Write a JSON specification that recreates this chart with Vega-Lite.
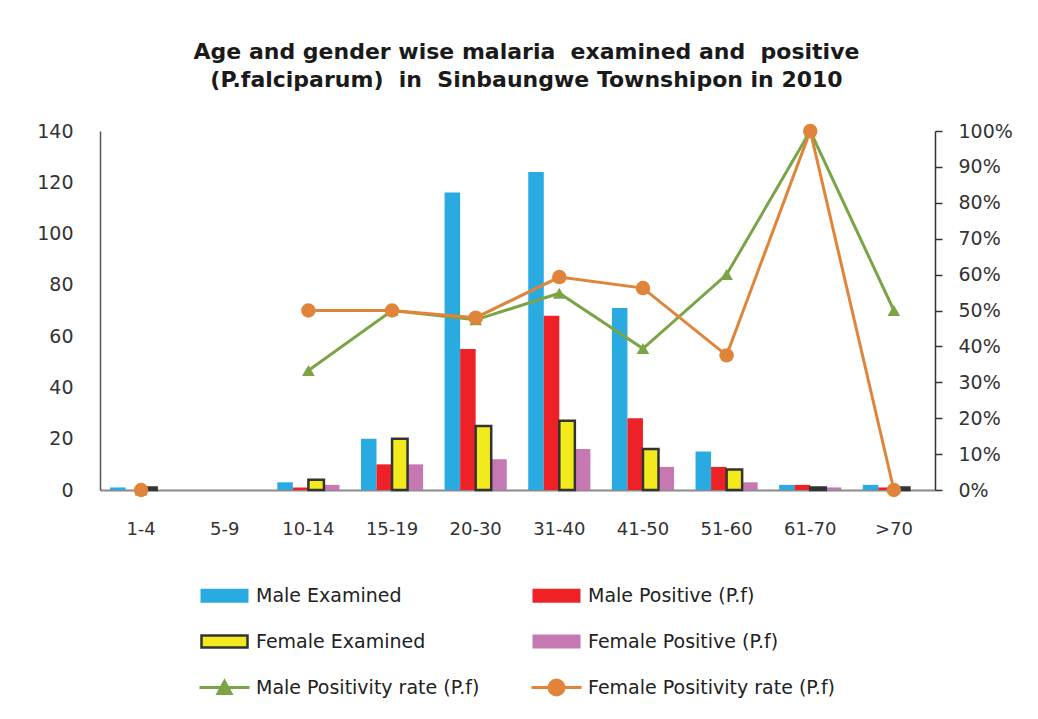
{
  "$schema": "https://vega.github.io/schema/vega-lite/v6.json",
  "width": 835,
  "height": 359,
  "autosize": {"type": "none"},
  "padding": {"left": 100, "top": 131, "right": 103, "bottom": 229},
  "background": "white",
  "config": {"view": {"stroke": null}, "font": "DejaVu Sans"},
  "title": {
    "text": ["Age and gender wise malaria \u00a0examined and \u00a0positive", "(P.falciparum) \u00a0in \u00a0Sinbaungwe Townshipon in 2010"],
    "font": "DejaVu Sans", "fontSize": 22, "fontWeight": "bold", "color": "#1a1a1a",
    "lineHeight": 28, "anchor": "middle", "frame": "group", "dx": 9, "offset": 30
  },
  "datasets": {
    "counts": [
      {"age": "1-4", "series": "Male Examined", "count": 1},
      {"age": "1-4", "series": "Female Examined", "count": 1},
      {"age": "10-14", "series": "Male Examined", "count": 3},
      {"age": "10-14", "series": "Male Positive (P.f)", "count": 1},
      {"age": "10-14", "series": "Female Examined", "count": 4},
      {"age": "10-14", "series": "Female Positive (P.f)", "count": 2},
      {"age": "15-19", "series": "Male Examined", "count": 20},
      {"age": "15-19", "series": "Male Positive (P.f)", "count": 10},
      {"age": "15-19", "series": "Female Examined", "count": 20},
      {"age": "15-19", "series": "Female Positive (P.f)", "count": 10},
      {"age": "20-30", "series": "Male Examined", "count": 116},
      {"age": "20-30", "series": "Male Positive (P.f)", "count": 55},
      {"age": "20-30", "series": "Female Examined", "count": 25},
      {"age": "20-30", "series": "Female Positive (P.f)", "count": 12},
      {"age": "31-40", "series": "Male Examined", "count": 124},
      {"age": "31-40", "series": "Male Positive (P.f)", "count": 68},
      {"age": "31-40", "series": "Female Examined", "count": 27},
      {"age": "31-40", "series": "Female Positive (P.f)", "count": 16},
      {"age": "41-50", "series": "Male Examined", "count": 71},
      {"age": "41-50", "series": "Male Positive (P.f)", "count": 28},
      {"age": "41-50", "series": "Female Examined", "count": 16},
      {"age": "41-50", "series": "Female Positive (P.f)", "count": 9},
      {"age": "51-60", "series": "Male Examined", "count": 15},
      {"age": "51-60", "series": "Male Positive (P.f)", "count": 9},
      {"age": "51-60", "series": "Female Examined", "count": 8},
      {"age": "51-60", "series": "Female Positive (P.f)", "count": 3},
      {"age": "61-70", "series": "Male Examined", "count": 2},
      {"age": "61-70", "series": "Male Positive (P.f)", "count": 2},
      {"age": "61-70", "series": "Female Examined", "count": 1},
      {"age": "61-70", "series": "Female Positive (P.f)", "count": 1},
      {"age": ">70", "series": "Male Examined", "count": 2},
      {"age": ">70", "series": "Male Positive (P.f)", "count": 1},
      {"age": ">70", "series": "Female Examined", "count": 1}
    ],
    "rates": [
      {"age": "1-4", "series": "Male Positivity rate (P.f)", "rate": 0},
      {"age": "10-14", "series": "Male Positivity rate (P.f)", "rate": 0.333},
      {"age": "15-19", "series": "Male Positivity rate (P.f)", "rate": 0.5},
      {"age": "20-30", "series": "Male Positivity rate (P.f)", "rate": 0.474},
      {"age": "31-40", "series": "Male Positivity rate (P.f)", "rate": 0.548},
      {"age": "41-50", "series": "Male Positivity rate (P.f)", "rate": 0.394},
      {"age": "51-60", "series": "Male Positivity rate (P.f)", "rate": 0.6},
      {"age": "61-70", "series": "Male Positivity rate (P.f)", "rate": 1},
      {"age": ">70", "series": "Male Positivity rate (P.f)", "rate": 0.5},
      {"age": "1-4", "series": "Female Positivity rate (P.f)", "rate": 0},
      {"age": "10-14", "series": "Female Positivity rate (P.f)", "rate": 0.5},
      {"age": "15-19", "series": "Female Positivity rate (P.f)", "rate": 0.5},
      {"age": "20-30", "series": "Female Positivity rate (P.f)", "rate": 0.48},
      {"age": "31-40", "series": "Female Positivity rate (P.f)", "rate": 0.593},
      {"age": "41-50", "series": "Female Positivity rate (P.f)", "rate": 0.5625},
      {"age": "51-60", "series": "Female Positivity rate (P.f)", "rate": 0.375},
      {"age": "61-70", "series": "Female Positivity rate (P.f)", "rate": 1},
      {"age": ">70", "series": "Female Positivity rate (P.f)", "rate": 0}
    ]
  },
  "encoding": {
    "x": {
      "field": "age", "type": "nominal",
      "scale": {"domain": ["1-4", "5-9", "10-14", "15-19", "20-30", "31-40", "41-50", "51-60", "61-70", ">70"], "paddingInner": 0.257, "paddingOuter": 0.12},
      "axis": {"title": null, "labelAngle": 0, "labelFontSize": 18, "labelColor": "#333", "labelFont": "DejaVu Sans", "ticks": false, "domainColor": "#8a8a8a", "domainWidth": 2, "labelPadding": 30, "grid": false}
    },
    "color": {
      "field": "series", "type": "nominal",
      "scale": {
        "domain": ["Male Examined", "Male Positive (P.f)", "Female Examined", "Female Positive (P.f)", "Male Positivity rate (P.f)", "Female Positivity rate (P.f)"],
        "range": ["#29abe2", "#ee2226", "#f2ea1c", "#c678b2", "#7ba446", "#e0843a"]
      },
      "legend": {
        "title": null, "orient": "none", "legendX": 115, "legendY": 455, "columns": 2, "direction": "horizontal",
        "columnPadding": 45, "rowPadding": 19, "symbolSize": 400, "labelFontSize": 19, "labelFont": "DejaVu Sans",
        "labelColor": "#222", "labelOffset": 22, "labelLimit": 500,
        "encode": {
          "symbols": {
            "update": {
              "shape": {"signal": "datum.value == 'Male Positivity rate (P.f)' ? 'M-2.5,0H2.5M-0.65,0.6L0,-0.6L0.65,0.6Z' : datum.value == 'Female Positivity rate (P.f)' ? 'M-2.5,0H2.5M0.75,0A0.75,0.75 0 1,1 -0.75,0A0.75,0.75 0 1,1 0.75,0Z' : datum.value == 'Female Examined' ? 'M-2.3,-0.6H2.3V0.6H-2.3Z' : 'M-2.4,-0.7H2.4V0.7H-2.4Z'"},
              "strokeWidth": {"signal": "datum.value == 'Female Examined' ? 2.5 : 3"},
              "opacity": {"value": 1}
            }
          }
        }
      }
    },
    "stroke": {
      "field": "series", "type": "nominal",
      "scale": {
        "domain": ["Male Examined", "Male Positive (P.f)", "Female Examined", "Female Positive (P.f)", "Male Positivity rate (P.f)", "Female Positivity rate (P.f)"],
        "range": ["transparent", "transparent", "#333333", "transparent", "#7ba446", "#e0843a"]
      },
      "legend": {
        "title": null, "orient": "none", "legendX": 115, "legendY": 455, "columns": 2, "direction": "horizontal",
        "columnPadding": 45, "rowPadding": 19, "symbolSize": 400, "labelFontSize": 19, "labelFont": "DejaVu Sans",
        "labelColor": "#222", "labelOffset": 22, "labelLimit": 500,
        "encode": {
          "symbols": {
            "update": {
              "shape": {"signal": "datum.value == 'Male Positivity rate (P.f)' ? 'M-2.5,0H2.5M-0.65,0.6L0,-0.6L0.65,0.6Z' : datum.value == 'Female Positivity rate (P.f)' ? 'M-2.5,0H2.5M0.75,0A0.75,0.75 0 1,1 -0.75,0A0.75,0.75 0 1,1 0.75,0Z' : datum.value == 'Female Examined' ? 'M-2.3,-0.6H2.3V0.6H-2.3Z' : 'M-2.4,-0.7H2.4V0.7H-2.4Z'"},
              "strokeWidth": {"signal": "datum.value == 'Female Examined' ? 2.5 : 3"},
              "opacity": {"value": 1}
            }
          }
        }
      }
    }
  },
  "layer": [
    {
      "encoding": {
        "y": {
          "field": "count", "type": "quantitative",
          "scale": {"domain": [0, 140]},
          "axis": {"title": null, "values": [0, 20, 40, 60, 80, 100, 120, 140], "labelFontSize": 19, "labelFont": "DejaVu Sans", "labelColor": "#333", "ticks": false, "grid": false, "domainColor": "#555", "domainWidth": 1.5, "labelPadding": 27}
        },
        "xOffset": {"field": "series", "type": "nominal", "scale": {"domain": ["Male Examined", "Male Positive (P.f)", "Female Examined", "Female Positive (P.f)"], "paddingInner": 0, "paddingOuter": 0}}
      },
      "layer": [
        {
          "data": {"name": "counts"},
          "transform": [{"filter": "datum.series != 'Female Examined'"}],
          "mark": {"type": "bar", "opacity": 1, "strokeWidth": 0}
        },
        {
          "data": {"name": "counts"},
          "transform": [{"filter": "datum.series == 'Female Examined'"}],
          "mark": {"type": "bar", "opacity": 1, "strokeWidth": 2.5}
        }
      ]
    },
    {
      "encoding": {
        "y": {
          "field": "rate", "type": "quantitative",
          "scale": {"domain": [0, 1]},
          "axis": {"title": null, "orient": "right", "format": ".0%", "values": [0, 0.1, 0.2, 0.3, 0.4, 0.5, 0.6, 0.7, 0.8, 0.9, 1], "labelFontSize": 19, "labelFont": "DejaVu Sans", "labelColor": "#333", "ticks": true, "tickSize": 7, "tickColor": "#333", "tickWidth": 1.5, "grid": false, "domainColor": "#333", "domainWidth": 1.5, "labelPadding": 16}
        }
      },
      "layer": [
        {
          "data": {"name": "rates"},
          "transform": [{"filter": "datum.age != '1-4'"}],
          "mark": {"type": "line", "strokeWidth": 3}
        },
        {
          "data": {"name": "rates"},
          "mark": {"type": "point", "filled": true, "opacity": 1, "strokeWidth": 0},
          "encoding": {
            "shape": {"field": "series", "type": "nominal", "scale": {"domain": ["Male Positivity rate (P.f)", "Female Positivity rate (P.f)"], "range": ["triangle-up", "circle"]}, "legend": null},
            "size": {"field": "series", "type": "nominal", "scale": {"domain": ["Male Positivity rate (P.f)", "Female Positivity rate (P.f)"], "range": [160, 210]}, "legend": null}
          }
        }
      ]
    }
  ],
  "resolve": {"scale": {"y": "independent"}}
}
